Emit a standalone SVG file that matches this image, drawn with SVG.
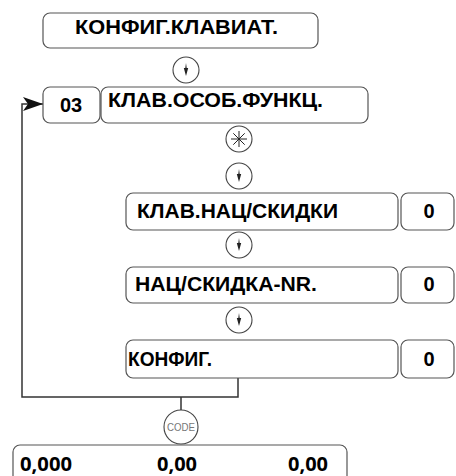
<svg xmlns="http://www.w3.org/2000/svg" width="456" height="476" viewBox="0 0 456 476">
<defs>
<style>
.box{fill:#fff;stroke:#555;stroke-width:1.2}
.circ{fill:#fff;stroke:#444;stroke-width:1.1}
.t{font-family:"Liberation Sans",Arial,sans-serif;font-weight:bold;font-size:20px;fill:#000}
.n{font-family:"Open Sans","Liberation Sans",sans-serif;font-weight:bold;font-size:19px;fill:#000}
.code{font-family:"Liberation Sans",Arial,sans-serif;font-size:11px;fill:#777}
.ln{fill:none;stroke:#333;stroke-width:1.5}
.arr{fill:#222}
</style>
<marker id="ah" markerWidth="22" markerHeight="14" refX="20" refY="7" orient="auto" markerUnits="userSpaceOnUse">
<path d="M0,0 L20,7 L0,14 L5,7 Z" fill="#111"/>
</marker>
<path id="dn" d="M0,-7 L0.7,-2 L2.2,-2 L0,6 L-2.2,-2 L-0.7,-2 Z"/>
</defs>
<rect width="456" height="476" fill="#fff"/>

<g id="connectors">
<path class="ln" d="M238,378 V397 H22 V104 H43" marker-end="url(#ah)"/>
<path class="ln" d="M181,397 V410"/>
</g>

<g id="n-top">
<rect class="box" x="43" y="13" width="275" height="35" rx="7"/>
<text class="t" x="75" y="34" textLength="203" lengthAdjust="spacingAndGlyphs">КОНФИГ.КЛАВИАТ.</text>
</g>
<g id="c1">
<circle class="circ" cx="186" cy="70" r="13"/>
<use href="#dn" x="186" y="70" class="arr"/>
</g>
<g id="n-03">
<rect class="box" x="43" y="87" width="57" height="36" rx="7"/>
<text class="t" x="71" y="112" text-anchor="middle">03</text>
</g>
<g id="n-osob">
<rect class="box" x="101" y="87" width="267" height="36" rx="7"/>
<text class="t" x="108" y="107" textLength="215" lengthAdjust="spacingAndGlyphs">КЛАВ.ОСОБ.ФУНКЦ.</text>
</g>
<g id="c-star">
<circle class="circ" cx="239" cy="139" r="13"/>
<g stroke="#222" stroke-width="1">
<line x1="239" y1="131" x2="239" y2="147"/>
<line x1="231" y1="139" x2="247" y2="139"/>
<line x1="233.3" y1="133.3" x2="244.7" y2="144.7"/>
<line x1="233.3" y1="144.7" x2="244.7" y2="133.3"/>
</g>
</g>
<g id="c2">
<circle class="circ" cx="239" cy="176" r="13"/>
<use href="#dn" x="239" y="176" class="arr"/>
</g>
<g id="n-nac">
<rect class="box" x="126" y="193" width="272" height="37" rx="7"/>
<text class="t" x="137" y="218" textLength="201" lengthAdjust="spacingAndGlyphs">КЛАВ.НАЦ/СКИДКИ</text>
</g>
<g id="v1">
<rect class="box" x="401" y="193" width="53" height="37" rx="7"/>
<text class="t" x="429" y="218" text-anchor="middle">0</text>
</g>
<g id="c3">
<circle class="circ" cx="239" cy="245" r="13"/>
<use href="#dn" x="239" y="245" class="arr"/>
</g>
<g id="n-nr">
<rect class="box" x="126" y="267" width="272" height="36" rx="7"/>
<text class="t" x="135" y="291" textLength="182" lengthAdjust="spacingAndGlyphs">НАЦ/СКИДКА-NR.</text>
</g>
<g id="v2">
<rect class="box" x="401" y="267" width="53" height="36" rx="7"/>
<text class="t" x="429" y="291" text-anchor="middle">0</text>
</g>
<g id="c4">
<circle class="circ" cx="239" cy="320" r="13"/>
<use href="#dn" x="239" y="320" class="arr"/>
</g>
<g id="n-konf">
<rect class="box" x="126" y="340" width="272" height="38" rx="7"/>
<text class="t" x="128" y="366" textLength="84" lengthAdjust="spacingAndGlyphs">КОНФИГ.</text>
</g>
<g id="v3">
<rect class="box" x="401" y="340" width="53" height="38" rx="7"/>
<text class="t" x="429" y="366" text-anchor="middle">0</text>
</g>
<g id="c-code">
<circle class="circ" cx="181" cy="427" r="17"/>
<text class="code" x="181" y="431" text-anchor="middle" textLength="28" lengthAdjust="spacingAndGlyphs">CODE</text>
</g>
<g id="n-bottom">
<rect class="box" x="13" y="445" width="334" height="50" rx="7"/>
<text class="n" x="20" y="471" textLength="52" lengthAdjust="spacingAndGlyphs">0,000</text>
<text class="n" x="157" y="471" textLength="40" lengthAdjust="spacingAndGlyphs">0,00</text>
<text class="n" x="288" y="471" textLength="40" lengthAdjust="spacingAndGlyphs">0,00</text>
</g>
</svg>
